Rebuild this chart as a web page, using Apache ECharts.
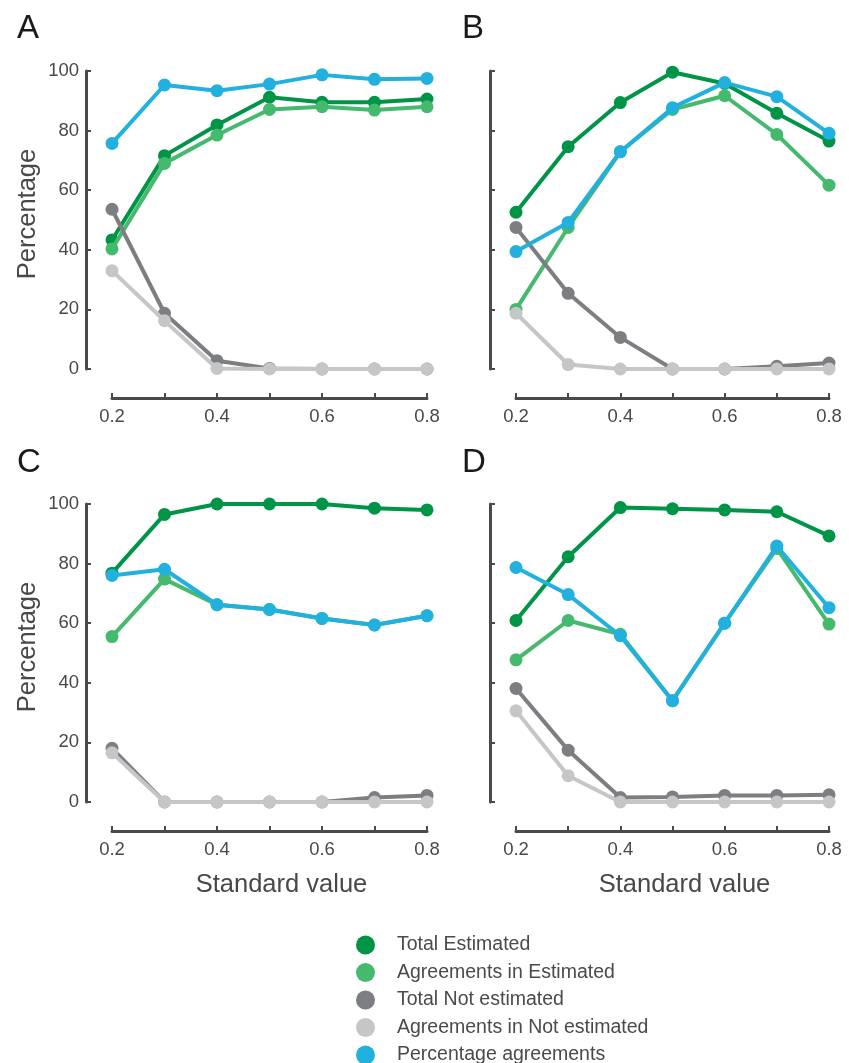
<!DOCTYPE html>
<html>
<head>
<meta charset="utf-8">
<script src="https://cdn.jsdelivr.net/npm/echarts@6/dist/echarts.min.js"></script>
<style>
html,body{margin:0;padding:0;background:#fff;}
#chart{width:849px;height:1063px;}
</style>
</head>
<body>
<div id="chart"></div>
<script>
// ---- data ----
const xValues = [0.2, 0.3, 0.4, 0.5, 0.6, 0.7, 0.8];
const xTickLabels = ['0.2', '0.4', '0.6', '0.8'];
const yTicks = [0, 20, 40, 60, 80, 100];
const seriesNames = ['Total Estimated', 'Agreements in Estimated', 'Total Not estimated', 'Agreements in Not estimated', 'Percentage agreements'];
const panelLetters = ['A', 'B', 'C', 'D'];

// Panel A
const A_totalEst   = [43.3, 71.6, 81.9, 91.2, 89.5, 89.5, 90.6];
const A_agreeEst   = [40.3, 69.0, 78.5, 87.1, 88.0, 86.9, 88.0];
const A_totalNot   = [53.6, 18.7, 2.8, 0.2, 0, 0, 0];
const A_agreeNot   = [33.0, 16.2, 0.2, 0, 0, 0, 0];
const A_pctAgree   = [75.7, 95.3, 93.4, 95.6, 98.7, 97.2, 97.5];
// Panel B
const B_totalEst   = [52.6, 74.6, 89.4, 99.6, 95.8, 85.8, 76.5];
const B_agreeEst   = [20.0, 47.5, 72.9, 87.1, 91.7, 78.7, 61.7];
const B_totalNot   = [47.5, 25.4, 10.6, 0, 0, 0.9, 2.0];
const B_agreeNot   = [18.7, 1.5, 0, 0, 0, 0, 0];
const B_pctAgree   = [39.4, 49.2, 72.9, 87.7, 96.1, 91.4, 79.1];
// Panel C
const C_totalEst   = [76.8, 96.5, 100, 100, 100, 98.6, 98.0];
const C_agreeEst   = [55.5, 74.8, 66.2, 64.6, 61.6, 59.4, 62.5];
const C_totalNot   = [18.0, 0, 0, 0, 0, 1.5, 2.2];
const C_agreeNot   = [16.5, 0, 0, 0, 0, 0, 0];
const C_pctAgree   = [76.0, 78.1, 66.2, 64.6, 61.6, 59.4, 62.5];
// Panel D
const D_totalEst   = [60.9, 82.3, 98.8, 98.4, 98.0, 97.4, 89.3];
const D_agreeEst   = [47.7, 60.9, 56.3, 34.0, 60.0, 85.1, 59.7];
const D_totalNot   = [38.1, 17.4, 1.5, 1.7, 2.2, 2.2, 2.4];
const D_agreeNot   = [30.6, 8.8, 0, 0, 0, 0, 0];
const D_pctAgree   = [78.7, 69.6, 55.8, 34.0, 60.0, 85.9, 65.2];

const panels = [
  [A_totalEst, A_agreeEst, A_totalNot, A_agreeNot, A_pctAgree],
  [B_totalEst, B_agreeEst, B_totalNot, B_agreeNot, B_pctAgree],
  [C_totalEst, C_agreeEst, C_totalNot, C_agreeNot, C_pctAgree],
  [D_totalEst, D_agreeEst, D_totalNot, D_agreeNot, D_pctAgree]
];

// ---- style ----
const colors = ['#009447', '#45B96E', '#7D7E82', '#C5C6C8', '#22B0DE'];
const FONT = 'Liberation Sans, Arial, Helvetica, sans-serif';
const axisColor = '#4a4a4a';
const textColor = '#484848';

const gridPos = [
  {left: 112, top: 71, width: 315, height: 298},
  {left: 516, top: 71, width: 313, height: 298},
  {left: 112, top: 504, width: 315, height: 298},
  {left: 516, top: 504, width: 313, height: 298}
];
const letterPos = [[17, 12], [462, 12], [17, 446], [462, 446]];

const grids = [], xAxes = [], yAxes = [], series = [];
panels.forEach((p, i) => {
  grids.push(Object.assign({containLabel: false}, gridPos[i]));
  const bottomRow = i >= 2;
  const leftCol = i % 2 === 0;
  xAxes.push({
    type: 'value', gridIndex: i, min: 0.2, max: 0.8, interval: 0.1,
    offset: 29,
    axisLine: {show: true, onZero: false, lineStyle: {color: axisColor, width: 3}},
    axisTick: {show: true, inside: true, length: 5, lineStyle: {color: axisColor, width: 2}},
    splitLine: {show: false},
    axisLabel: {
      show: true, margin: 9, fontSize: 18.5, color: textColor, fontFamily: FONT,
      formatter: v => { const s = (Math.round(v * 10) / 10).toFixed(1); return xTickLabels.indexOf(s) >= 0 ? s : ''; }
    },
    name: bottomRow ? 'Standard value' : '',
    nameLocation: 'middle', nameGap: 41,
    nameTextStyle: {fontSize: 25.5, color: textColor, fontFamily: FONT, padding: [0, 0, 0, 24]}
  });
  yAxes.push({
    type: 'value', gridIndex: i, min: yTicks[0], max: yTicks[yTicks.length - 1], interval: 20,
    offset: 26,
    axisLine: {show: true, onZero: false, lineStyle: {color: axisColor, width: 3}},
    axisTick: {show: true, inside: true, length: 5, lineStyle: {color: axisColor, width: 2}},
    splitLine: {show: false},
    axisLabel: {show: leftCol, margin: 7, fontSize: 18.5, color: textColor, fontFamily: FONT},
    name: leftCol ? 'Percentage' : '',
    nameLocation: 'middle', nameGap: 45, nameRotate: 90,
    nameTextStyle: {fontSize: 25.5, color: textColor, fontFamily: FONT, padding: [0, 0, 0, 12]}
  });
  p.forEach((vals, k) => {
    series.push({
      type: 'line', name: seriesNames[k], xAxisIndex: i, yAxisIndex: i,
      data: vals.map((v, j) => [xValues[j], v]),
      symbol: 'circle', symbolSize: 13, showAllSymbol: true,
      lineStyle: {color: colors[k], width: 4},
      itemStyle: {color: colors[k]},
      emphasis: {disabled: true},
      z: 2 + k
    });
  });
});

const graphics = panelLetters.map((L, i) => ({
  type: 'text', left: letterPos[i][0], top: letterPos[i][1],
  style: {text: L, fontSize: 33, fill: '#1a1a1a', fontFamily: FONT}
}));

const chart = echarts.init(document.getElementById('chart'), null, {renderer: 'canvas'});
chart.setOption({
  animation: false,
  backgroundColor: '#ffffff',
  color: colors,
  grid: grids,
  xAxis: xAxes,
  yAxis: yAxes,
  series: series,
  graphic: graphics,
  legend: {
    orient: 'vertical', left: 351, top: 930, height: 300,
    icon: 'circle', itemWidth: 19, itemHeight: 19, itemGap: 7.5,
    data: seriesNames,
    selectedMode: false,
    textStyle: {fontSize: 19.5, color: '#4a4a4a', fontFamily: FONT, padding: [0, 0, 0, 17]}
  }
});
</script>
</body>
</html>
